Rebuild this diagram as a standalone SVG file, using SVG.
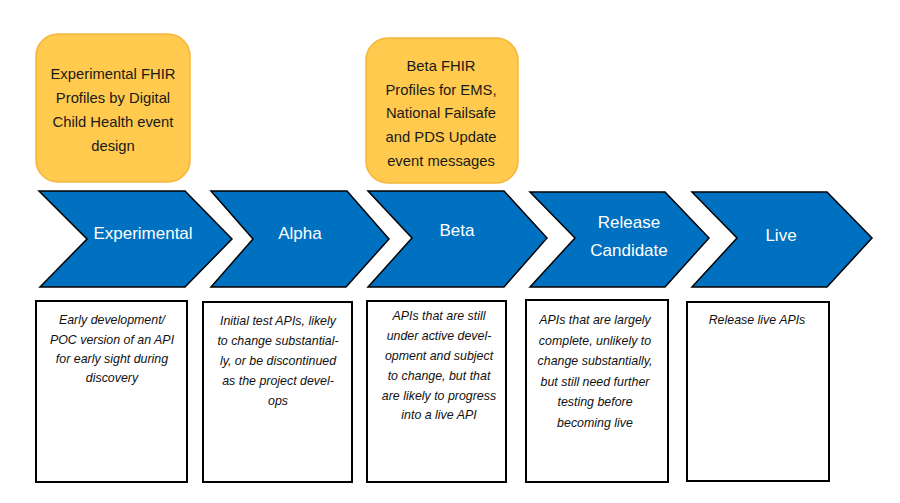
<svg xmlns="http://www.w3.org/2000/svg" width="900" height="503" viewBox="0 0 900 503">
  <style>
    .note { fill: #FFCA4D; stroke: #F4B63A; stroke-width: 1.5; }
    .note-text { font-family: "Liberation Sans", Arial, sans-serif; font-size: 14.8px; fill: #1a1a1a; text-anchor: middle; }
    .stage { fill: #0070C0; stroke: #000; stroke-width: 1.5; stroke-linejoin: miter; }
    .stage-text { font-family: "Liberation Sans", Arial, sans-serif; font-size: 17px; fill: #fff; text-anchor: middle; }
    .desc { fill: #fff; stroke: #000; stroke-width: 2; }
    .desc-text { font-family: "Liberation Sans", Arial, sans-serif; font-size: 12.4px; font-style: italic; fill: #111; text-anchor: middle; }
  </style>
  <rect width="900" height="503" fill="#fff"/>

  <!-- callout notes above stages -->
  <g id="note-experimental">
    <rect class="note" x="36" y="34" width="154" height="148" rx="22"/>
    <text class="note-text" x="113" y="79">Experimental FHIR</text>
    <text class="note-text" x="113" y="103">Profiles by Digital</text>
    <text class="note-text" x="113" y="127">Child Health event</text>
    <text class="note-text" x="113" y="151">design</text>
  </g>
  <g id="note-beta">
    <rect class="note" x="366" y="38" width="152" height="145" rx="22"/>
    <text class="note-text" x="441" y="71">Beta FHIR</text>
    <text class="note-text" x="441" y="95">Profiles for EMS,</text>
    <text class="note-text" x="441" y="118">National Failsafe</text>
    <text class="note-text" x="441" y="142">and PDS Update</text>
    <text class="note-text" x="441" y="166">event messages</text>
  </g>

  <!-- stage chevrons -->
  <g id="stage-experimental">
    <polygon class="stage" points="39,191 185,191 232,239 185,287 40,287 87,239"/>
    <text class="stage-text" x="143" y="239">Experimental</text>
  </g>
  <g id="stage-alpha">
    <polygon class="stage" points="211,191 347,191 389,239 346,287 211,287 253,239"/>
    <text class="stage-text" x="300" y="239">Alpha</text>
  </g>
  <g id="stage-beta">
    <polygon class="stage" points="368,191 504,191 547,238 504,287 368,287 412,238"/>
    <text class="stage-text" x="457" y="236">Beta</text>
  </g>
  <g id="stage-release-candidate">
    <polygon class="stage" points="530,192 665,192 709,238 665,287 530,287 575,238"/>
    <text class="stage-text" x="629" y="228">Release</text>
    <text class="stage-text" x="629" y="256">Candidate</text>
  </g>
  <g id="stage-live">
    <polygon class="stage" points="692,192 827,192 872,238 827,287 692,287 737,238"/>
    <text class="stage-text" x="781" y="241">Live</text>
  </g>

  <!-- descriptions under stages -->
  <g id="desc-experimental">
    <rect class="desc" x="36" y="301" width="151" height="181"/>
    <text class="desc-text" x="112" y="324">Early development/</text>
    <text class="desc-text" x="112" y="344">POC version of an API</text>
    <text class="desc-text" x="112" y="363">for early sight during</text>
    <text class="desc-text" x="112" y="382">discovery</text>
  </g>
  <g id="desc-alpha">
    <rect class="desc" x="203" y="302" width="149" height="180"/>
    <text class="desc-text" x="278" y="325">Initial test APIs, likely</text>
    <text class="desc-text" x="278" y="345">to change substantial-</text>
    <text class="desc-text" x="278" y="365">ly, or be discontinued</text>
    <text class="desc-text" x="278" y="385">as the project devel-</text>
    <text class="desc-text" x="278" y="405">ops</text>
  </g>
  <g id="desc-beta">
    <rect class="desc" x="367" y="301" width="139" height="181"/>
    <text class="desc-text" x="439" y="320">APIs that are still</text>
    <text class="desc-text" x="439" y="340">under active devel-</text>
    <text class="desc-text" x="439" y="360">opment and subject</text>
    <text class="desc-text" x="439" y="380">to change, but that</text>
    <text class="desc-text" x="439" y="400">are likely to progress</text>
    <text class="desc-text" x="439" y="419">into a live API</text>
  </g>
  <g id="desc-release-candidate">
    <rect class="desc" x="526" y="300" width="142" height="182"/>
    <text class="desc-text" x="595" y="324">APIs that are largely</text>
    <text class="desc-text" x="595" y="345">complete, unlikely to</text>
    <text class="desc-text" x="595" y="365">change substantially,</text>
    <text class="desc-text" x="595" y="386">but still need further</text>
    <text class="desc-text" x="595" y="406">testing before</text>
    <text class="desc-text" x="595" y="427">becoming live</text>
  </g>
  <g id="desc-live">
    <rect class="desc" x="687" y="302" width="142" height="179"/>
    <text class="desc-text" x="757" y="324">Release live APIs</text>
  </g>
</svg>
